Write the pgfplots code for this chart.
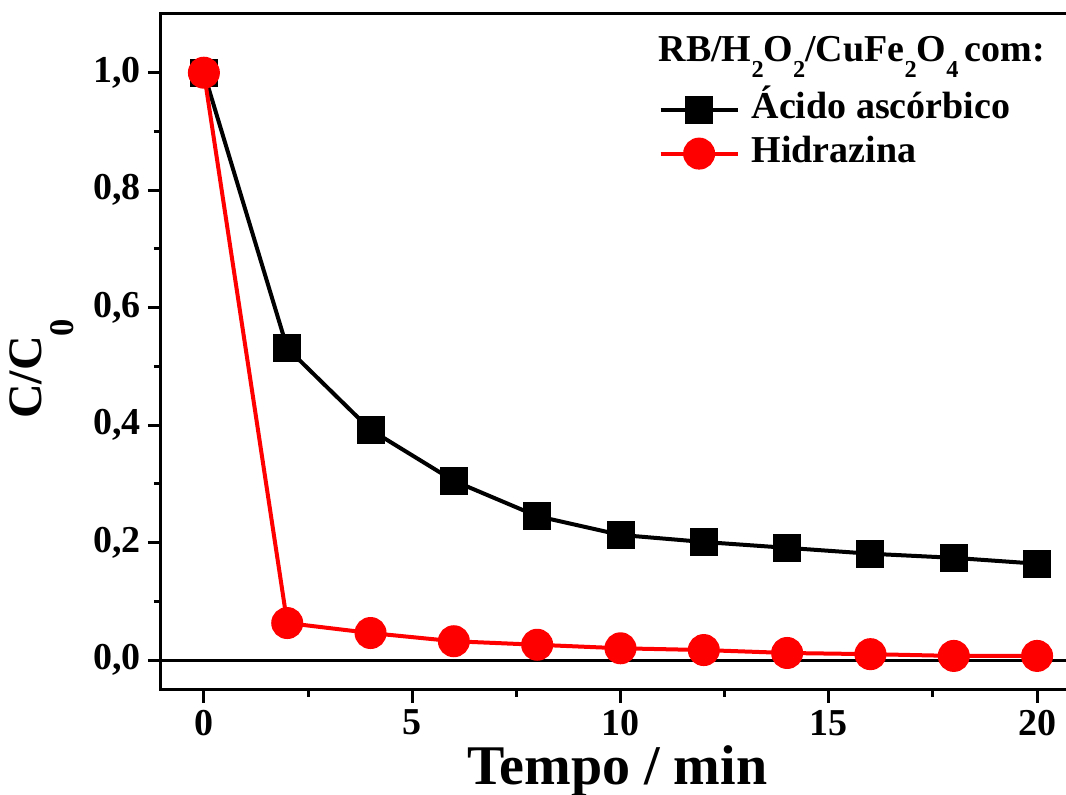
\documentclass[border=0pt]{standalone}
\usepackage{fontspec}
\setmainfont{Liberation Serif}
\usepackage{graphicx}
\usepackage{pgfplots}
\pgfplotsset{compat=1.18}

% lowered, reduced subscript in the style of the original figure
\newcommand\lowsub[1]{\raisebox{-0.40em}{\scalebox{0.64}{#1}}}

\begin{document}
\begin{tikzpicture}
\begin{axis}[
  scale only axis,
  width=454.5pt, height=338pt,
  xmin=-1.03, xmax=20.79,
  ymin=-0.051, ymax=1.1,
  tick align=outside,
  xtick pos=bottom, ytick pos=left,
  xtick={0,5,10,15,20}, minor x tick num=1,
  ytick={0,0.2,0.4,0.6,0.8,1.0}, minor y tick num=1,
  major tick length=6.5pt, minor tick length=3.5pt,
  every tick/.style={black, line width=1.5pt},
  axis line style={line width=1.5pt},
  ticklabel style={font=\fontsize{19}{21}\selectfont\bfseries},
  /pgf/number format/assume math mode=true,
  yticklabel style={/pgf/number format/.cd, fixed, fixed zerofill, precision=1, use comma},
  xlabel={Tempo / min},
  xlabel style={font=\fontsize{28}{30}\selectfont\bfseries,
    at={([yshift=-47.5pt]axis description cs:0.502,0)}, anchor=base},
  ylabel={C/C\raisebox{-16pt}{\scalebox{0.72}{0}}},
  ylabel style={font=\fontsize{24}{26}\selectfont\bfseries,
    at={([xshift=-59.5pt]axis description cs:0,0.475)}, anchor=base},
  legend cell align=left,
  legend image code/.code={%
    \draw[mark repeat=2, mark phase=2, #1]
      plot coordinates {(0pt,0pt) (19.25pt,0pt) (38.5pt,0pt)};},
  legend style={draw=none, fill=none, inner sep=0pt,
    at={(rel axis cs:0.547,0.826)}, anchor=west,
    font=\fontsize{19}{21}\selectfont\bfseries,
    row sep=5pt,
    nodes={inner sep=0pt, text height=13pt, text depth=4pt},
    /tikz/every odd column/.append style={column sep=6pt}},
]
% baseline at C/C0 = 0
\draw[line width=1.5pt] (axis cs:-1.03,0) -- (axis cs:20.79,0);

\addplot[black, line width=2pt, mark=square*, mark size=6pt, mark options={solid}]
  coordinates {
  (0,1.000) (2,0.531) (4,0.392) (6,0.305) (8,0.245) (10,0.213)
  (12,0.201) (14,0.191) (16,0.181) (18,0.174) (20,0.164)
  };
\addlegendentry{Ácido ascórbico}

\addplot[red, line width=2pt, mark=*, mark size=7pt, mark options={solid}]
  coordinates {
  (0,1.000) (2,0.063) (4,0.046) (6,0.032) (8,0.026) (10,0.020)
  (12,0.017) (14,0.012) (16,0.010) (18,0.007) (20,0.007)
  };
\addlegendentry{Hidrazina}

\node[anchor=base west, inner sep=0pt, font=\fontsize{19}{21}\selectfont\bfseries]
  at (rel axis cs:0.547,0.929) {RB/H\lowsub{2}O\lowsub{2}/CuFe\lowsub{2}O\lowsub{4}\,com:};
\end{axis}
\pgfresetboundingbox
\path[use as bounding box] (-80.5pt,-52.5pt) rectangle (452.5pt,345pt);
\end{tikzpicture}
\end{document}
